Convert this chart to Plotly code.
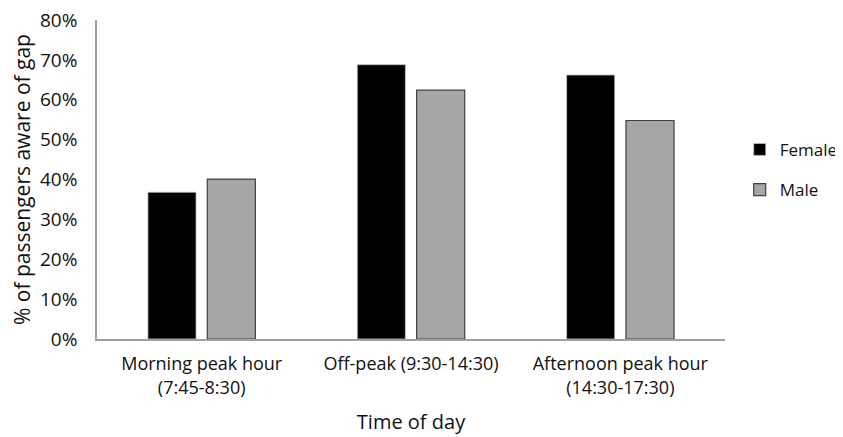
import plotly.graph_objects as go

categories = ["Morning peak hour<br>(7:45-8:30)", "Off-peak (9:30-14:30)", "Afternoon peak hour<br>(14:30-17:30)"]
female = [0.368, 0.688, 0.662]
male = [0.401, 0.624, 0.548]
y_ticks = [0, 0.1, 0.2, 0.3, 0.4, 0.5, 0.6, 0.7, 0.8]

font_family = "'Open Sans', Lato, sans-serif"

fig = go.Figure()
fig.add_trace(go.Bar(x=categories, y=female, name="Female", legendgroup="f",
                     marker=dict(color="#000000", line=dict(color="#BFBFBF", width=0.8))))
fig.add_trace(go.Bar(x=categories, y=male, name="Male", legendgroup="m",
                     marker=dict(color="#A6A6A6", line=dict(color="#404040", width=1.2))))

fig.update_layout(
    width=843, height=437,
    margin=dict(l=89, r=126, t=12, b=106),
    paper_bgcolor="white", plot_bgcolor="white",
    font=dict(family=font_family, color="#111111", size=18),
    barmode="group", bargap=0.433, bargroupgap=0.19,
    legend=dict(xref="container", x=0.868, xanchor="left", y=0.53, yanchor="middle",
                font=dict(size=17), tracegroupgap=15, itemwidth=30),
    xaxis=dict(showline=True, linecolor="#A0A0A0", linewidth=1.5,
               ticks="outside", ticklen=8, tickcolor="white",
               automargin=False,
               title=dict(text="Time of day", font=dict(size=20), standoff=17),
               tickfont=dict(size=18)),
    yaxis=dict(range=[0, 0.8], tickvals=y_ticks, tickformat=".0%",
               showline=True, linecolor="#A0A0A0", linewidth=1.5, showgrid=False,
               automargin=False, ticklabeloverflow="allow",
               zeroline=False, ticks="outside", ticklen=14, tickcolor="white",
               tickfont=dict(size=19),
               title=dict(text="% of passengers aware of gap", font=dict(size=21), standoff=10)),
)

fig.write_html("out.html")
